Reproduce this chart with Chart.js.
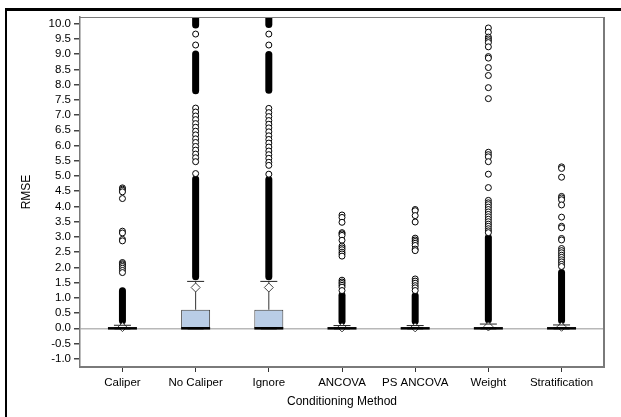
<!DOCTYPE html>
<html>
<head>
<meta charset="utf-8">
<script src="https://cdn.jsdelivr.net/npm/chart.js@4.4.1/dist/chart.umd.min.js"></script>
<style>
  html, body { margin: 0; padding: 0; background: #fff; overflow: hidden; }
  #chart-container { position: absolute; left: 0; top: 0; width: 621px; height: 417px; }
</style>
</head>
<body>
<div id="chart-container"><canvas id="boxChart" width="621" height="417"></canvas></div>
<script>
// Categories and box statistics
const categories = ['Caliper', 'No Caliper', 'Ignore', 'ANCOVA', 'PS ANCOVA', 'Weight', 'Stratification'];
const q1 = [0.00, 0.01, 0.01, 0.00, 0.00, 0.00, 0.00];
const medians = [0.00, 0.00, 0.00, 0.00, 0.00, 0.00, 0.00];
const q3 = [0.02, 0.61, 0.61, 0.02, 0.02, 0.03, 0.02];
const whiskerLow = [0.00, 0.00, 0.00, 0.00, 0.00, 0.00, 0.00];
const whiskerHigh = [0.10, 1.54, 1.54, 0.09, 0.09, 0.14, 0.11];
const means = [0.04, 1.34, 1.34, 0.03, 0.03, 0.06, 0.05];

// Runs of outliers so dense they print as a solid column [from, to]
const caliperDense = [[0.13, 1.35]];
const noCaliperDense = [[1.58, 5.02], [7.68, 9.12], [9.84, 10.4]];
const ignoreDense = [[1.58, 5.00], [7.70, 9.10], [9.86, 10.4]];
const ancovaDense = [[0.12, 1.20]];
const psAncovaDense = [[0.12, 1.18]];
const weightDense = [[0.17, 3.10]];
const stratDense = [[0.14, 1.95]];

// Separate outliers
const caliperOut = [4.61, 4.57, 4.53, 4.48, 4.26, 3.19, 3.13, 2.92, 2.87, 2.16, 2.12, 2.08, 2.03, 1.97, 1.90, 1.83];
const noCaliperOut = [9.66, 9.30, 7.23, 7.10, 6.97, 6.85, 6.72, 6.60, 6.47, 6.35, 6.22, 6.10, 5.97, 5.85, 5.72, 5.60, 5.47, 5.08];
const ignoreOut = [9.66, 9.30, 7.22, 7.08, 6.95, 6.82, 6.70, 6.58, 6.45, 6.32, 6.20, 6.08, 5.95, 5.82, 5.70, 5.58, 5.45, 5.35, 5.06];
const ancovaOut = [3.72, 3.64, 3.48, 3.14, 3.10, 3.05, 2.89, 2.70, 2.64, 2.58, 2.50, 2.44, 2.37, 1.58, 1.52, 1.47, 1.41, 1.35, 1.24];
const psAncovaOut = [3.90, 3.86, 3.70, 3.49, 2.96, 2.90, 2.85, 2.79, 2.72, 2.60, 2.55, 1.62, 1.55, 1.48, 1.40, 1.33, 1.24];
const weightOut = [9.86, 9.72, 9.56, 9.50, 9.44, 9.38, 9.24, 8.92, 8.87, 8.56, 8.30, 7.90, 7.54, 5.78, 5.70, 5.63, 5.47, 5.06, 4.62,
  4.20, 4.12, 4.06, 3.98, 3.90, 3.82, 3.74, 3.66, 3.58, 3.50, 3.42, 3.35, 3.27, 3.20, 3.14];
const stratOut = [5.30, 5.25, 4.96, 4.33, 4.28, 4.22, 4.05, 3.65, 3.35, 3.30, 2.95, 2.90, 2.62, 2.55, 2.48, 2.40, 2.33, 2.25, 2.18, 2.10, 2.03];

const yTicks = [-1.0, -0.5, 0.0, 0.5, 1.0, 1.5, 2.0, 2.5, 3.0, 3.5, 4.0, 4.5, 5.0, 5.5, 6.0, 6.5, 7.0, 7.5, 8.0, 8.5, 9.0, 9.5, 10.0];

const denseLists = [caliperDense, noCaliperDense, ignoreDense, ancovaDense, psAncovaDense, weightDense, stratDense];
const outLists = [caliperOut, noCaliperOut, ignoreOut, ancovaOut, psAncovaOut, weightOut, stratOut];

// Turn per-category lists into {x, y} points for the library
function pointsFor(lists) {
  const pts = [];
  lists.forEach((vals, i) => vals.forEach(v => pts.push({ x: i, y: v })));
  return pts;
}
function perCategory(vals) {
  return vals.map((v, i) => ({ x: i, y: v }));
}

const tickFont = { family: "'Liberation Sans', Arial, sans-serif", size: 11.5 };
const titleFont = { family: "'Liberation Sans', Arial, sans-serif", size: 12 };

// Outer black frame (top and left only) and thin frame on top/right of the plot
const frames = {
  id: 'frames',
  beforeDraw(chart) {
    const { ctx } = chart;
    ctx.save();
    ctx.fillStyle = '#000';
    ctx.fillRect(5, 8, 616, 3);
    ctx.fillRect(5, 8, 2, 409);
    ctx.restore();
  },
  afterDraw(chart) {
    const { ctx, chartArea: a } = chart;
    ctx.save();
    ctx.strokeStyle = '#7a7a7a';
    ctx.lineWidth = 1;
    ctx.beginPath();
    ctx.moveTo(a.left, a.top + 0.5);
    ctx.lineTo(a.right, a.top + 0.5);
    ctx.stroke();
    ctx.lineWidth = 2;
    ctx.beginPath();
    ctx.moveTo(a.right, a.top);
    ctx.lineTo(a.right, a.bottom);
    ctx.stroke();
    ctx.restore();
  }
};

const ctx = document.getElementById('boxChart').getContext('2d');

new Chart(ctx, {
  type: 'bar',
  data: {
    datasets: [
      {
        // dense outlier columns
        type: 'bar',
        data: pointsFor(denseLists),
        backgroundColor: '#000',
        borderRadius: 3.5,
        borderSkipped: false,
        grouped: false,
        maxBarThickness: 7,
        order: 6,
      },
      {
        // upper whiskers
        type: 'bar',
        data: q3.map((v, i) => ({ x: i, y: [v, whiskerHigh[i]] })),
        backgroundColor: '#333',
        grouped: false,
        maxBarThickness: 1,
        order: 5,
      },
      {
        // boxes
        type: 'bar',
        data: q1.map((v, i) => ({ x: i, y: [v, q3[i]] })),
        backgroundColor: '#b9cde6',
        borderColor: '#3c3c3c',
        borderWidth: 1,
        borderSkipped: false,
        grouped: false,
        maxBarThickness: 29,
        order: 4,
      },
      {
        // means
        type: 'scatter',
        data: perCategory(means),
        pointStyle: 'rectRot',
        pointRadius: 4.5,
        pointBorderWidth: 1,
        pointBorderColor: '#444',
        pointBackgroundColor: '#fff',
        order: 3.5,
      },
      {
        // medians
        type: 'scatter',
        data: perCategory(medians),
        pointStyle: 'line',
        pointRadius: 14.5,
        pointBorderWidth: 2.5,
        pointBorderColor: '#000',
        order: 3,
      },
      {
        // upper whisker caps
        type: 'scatter',
        data: perCategory(whiskerHigh),
        pointStyle: 'line',
        pointRadius: 8.5,
        pointBorderWidth: 1,
        pointBorderColor: '#222',
        order: 3,
      },
      {
        // lower whisker caps
        type: 'scatter',
        data: perCategory(whiskerLow),
        pointStyle: 'line',
        pointRadius: 8,
        pointBorderWidth: 2,
        pointBorderColor: '#000',
        order: 3,
      },
      {
        // outliers
        type: 'scatter',
        data: pointsFor(outLists),
        pointStyle: 'circle',
        pointRadius: 3,
        pointBorderWidth: 1,
        pointBorderColor: '#000',
        pointBackgroundColor: '#fff',
        order: 1,
      },
    ],
  },
  options: {
    responsive: false,
    animation: false,
    events: [],
    layout: {
      padding: { left: 10, top: 17, right: 9, bottom: 0 },
    },
    plugins: {
      legend: { display: false },
      tooltip: { enabled: false },
    },
    scales: {
      x: {
        type: 'linear',
        min: -0.58,
        max: 6.58,
        offset: false,
        afterBuildTicks: axis => { axis.ticks = categories.map((c, i) => ({ value: i })); },
        afterFit: axis => {
          axis.height = 50;
          axis.paddingLeft = 0;
          axis.paddingRight = 0;
        },
        ticks: {
          callback: value => categories[value],
          font: tickFont,
          color: '#000',
          padding: 4,
          autoSkip: false,
          maxRotation: 0,
        },
        grid: {
          offset: false,
          drawOnChartArea: false,
          tickLength: 5,
          tickColor: '#333',
        },
        border: { color: '#7a7a7a', width: 2 },
        title: {
          display: true,
          text: 'Conditioning Method',
          font: titleFont,
          color: '#000',
          padding: { top: 0, bottom: 8 },
        },
      },
      y: {
        type: 'linear',
        min: -1.27,
        max: 10.22,
        afterBuildTicks: axis => { axis.ticks = yTicks.map(v => ({ value: v })); },
        afterFit: axis => {
          axis.width = 70;
          axis.paddingTop = 0;
          axis.paddingBottom = 0;
        },
        ticks: {
          callback: value => value.toFixed(1),
          font: tickFont,
          color: '#000',
          padding: 3,
          autoSkip: false,
        },
        grid: {
          color: c => (c.tick && c.tick.value === 0 ? '#b8b8b8' : 'rgba(0,0,0,0)'),
          lineWidth: 1.5,
          tickLength: 6,
          tickColor: '#444',
        },
        border: { color: '#7a7a7a', width: 1.5 },
        title: {
          display: true,
          text: 'RMSE',
          font: titleFont,
          color: '#000',
          padding: { top: 9, bottom: 0 },
        },
      },
    },
  },
  plugins: [frames],
});
</script>
</body>
</html>
